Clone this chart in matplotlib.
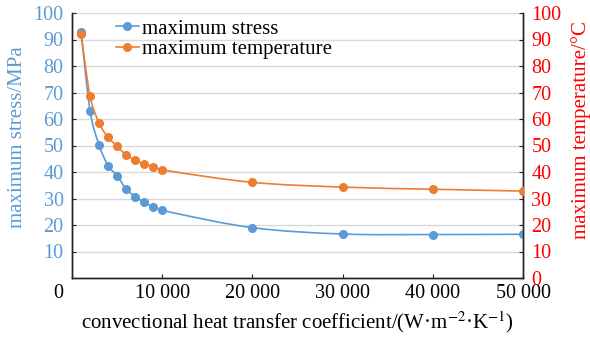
import numpy as np
import matplotlib.pyplot as plt
from matplotlib.path import Path
from matplotlib.patches import PathPatch
from matplotlib.lines import Line2D
import matplotlib.transforms as mtransforms

plt.rcParams['font.family'] = ['Liberation Serif', 'DejaVu Serif']
plt.rcParams['mathtext.fontset'] = 'stix'

# --- data ---
h_coef = [1000, 2000, 3000, 4000, 5000, 6000, 7000, 8000, 9000, 10000,
          20000, 30000, 40000, 50000]
max_stress = [92.7, 63.2, 50.2, 42.4, 38.6, 33.6, 30.7, 28.6, 26.9, 25.5,
              19.0, 16.6, 16.4, 16.5]
max_temp = [92.1, 68.7, 58.5, 53.1, 49.7, 46.5, 44.4, 43.1, 42.0, 40.8,
            36.1, 34.3, 33.5, 32.8]

x_ticks = [0, 10000, 20000, 30000, 40000, 50000]
x_tick_labels = ['0', '10 000', '20 000', '30 000', '40 000', '50 000']
y_left_ticks = [10, 20, 30, 40, 50, 60, 70, 80, 90, 100]
y_right_ticks = [0, 10, 20, 30, 40, 50, 60, 70, 80, 90, 100]

BLUE = '#5B9BD5'
ORANGE = '#ED7D31'
RED = '#FF0000'


def smooth_path(x, y):
    # cubic bezier through the points (excel-like "smoothed line")
    x = np.asarray(x, float)
    y = np.asarray(y, float)
    n = len(x)
    m = np.zeros(n)
    m[0] = (y[1] - y[0]) / (x[1] - x[0])
    m[-1] = (y[-1] - y[-2]) / (x[-1] - x[-2])
    for i in range(1, n - 1):
        m[i] = (y[i + 1] - y[i - 1]) / (x[i + 1] - x[i - 1])
    verts = [(x[0], y[0])]
    codes = [Path.MOVETO]
    for i in range(n - 1):
        h = x[i + 1] - x[i]
        verts += [(x[i] + h / 3, y[i] + m[i] * h / 3),
                  (x[i + 1] - h / 3, y[i + 1] - m[i + 1] * h / 3),
                  (x[i + 1], y[i + 1])]
        codes += [Path.CURVE4] * 3
    return Path(verts, codes)


fig = plt.figure(figsize=(5.9, 3.38), dpi=100)
ax = fig.add_axes([72 / 590, 1 - 278 / 338, 451 / 590, 265 / 338])
ax2 = ax.twinx()

ax.add_patch(PathPatch(smooth_path(h_coef, max_stress), fill=False,
                       edgecolor=BLUE, lw=1.2, zorder=3))
ax.plot(h_coef, max_stress, 'o', color=BLUE, ms=5.5, zorder=4)
ax2.add_patch(PathPatch(smooth_path(h_coef, max_temp), fill=False,
                        edgecolor=ORANGE, lw=1.2, zorder=3))
ax2.plot(h_coef, max_temp, 'o', color=ORANGE, ms=5.5, zorder=4)

ax.set_xlim(0, 50000)
ax.set_ylim(0, 100)
ax2.set_ylim(0, 100)
ax.set_xticks(x_ticks)
ax.set_xticklabels(x_tick_labels)
ax.set_yticks(y_left_ticks)
ax2.set_yticks(y_right_ticks)

ax.grid(axis='y', color='#D9D9D9', lw=1.0)
ax.set_axisbelow(True)

for a in (ax, ax2):
    a.spines['top'].set_visible(False)
    for s in ('left', 'right', 'bottom'):
        a.spines[s].set_color('#222222')
        a.spines[s].set_linewidth(1.0)

ax.tick_params(axis='x', direction='in', length=3, width=0.8, color='#222222',
               labelsize=14.5, pad=4)
ax.tick_params(axis='y', direction='in', length=3, width=0.8, color='#222222',
               labelsize=14.5, labelcolor=BLUE, pad=6)
ax2.tick_params(axis='y', direction='in', length=3, width=0.8, color='#222222',
                labelsize=14.5, labelcolor=RED, pad=6)

# the "0" label sits a little left of the axis in the original
offset = mtransforms.ScaledTranslation(-14 / 100, 0, fig.dpi_scale_trans)
lbl0 = ax.get_xticklabels()[0]
lbl0.set_transform(lbl0.get_transform() + offset)

ax.set_xlabel('convectional heat transfer coefficient/(W·m$^{-2}$·K$^{-1}$)',
              fontsize=15, labelpad=5)
fig.text(18 / 590, 1 - 137 / 338, 'maximum stress/MPa', fontsize=15,
         color=BLUE, rotation=90, ha='center', va='center')
fig.text(581 / 590, 1 - 130 / 338, 'maximum temperature/°C', fontsize=15,
         color=RED, rotation=90, ha='center', va='center')

handles = [Line2D([], [], color=BLUE, lw=1.2, marker='o', ms=5.5),
           Line2D([], [], color=ORANGE, lw=1.2, marker='o', ms=5.5)]
ax2.legend(handles, ['maximum stress', 'maximum temperature'],
           loc='upper left', bbox_to_anchor=(116 / 590, 1 - 19 / 338),
           bbox_transform=fig.transFigure, frameon=False, fontsize=15,
           handlelength=1.1, handletextpad=0.15, labelspacing=0.05,
           borderpad=0, borderaxespad=0)

fig.savefig('out.png', dpi=100)
